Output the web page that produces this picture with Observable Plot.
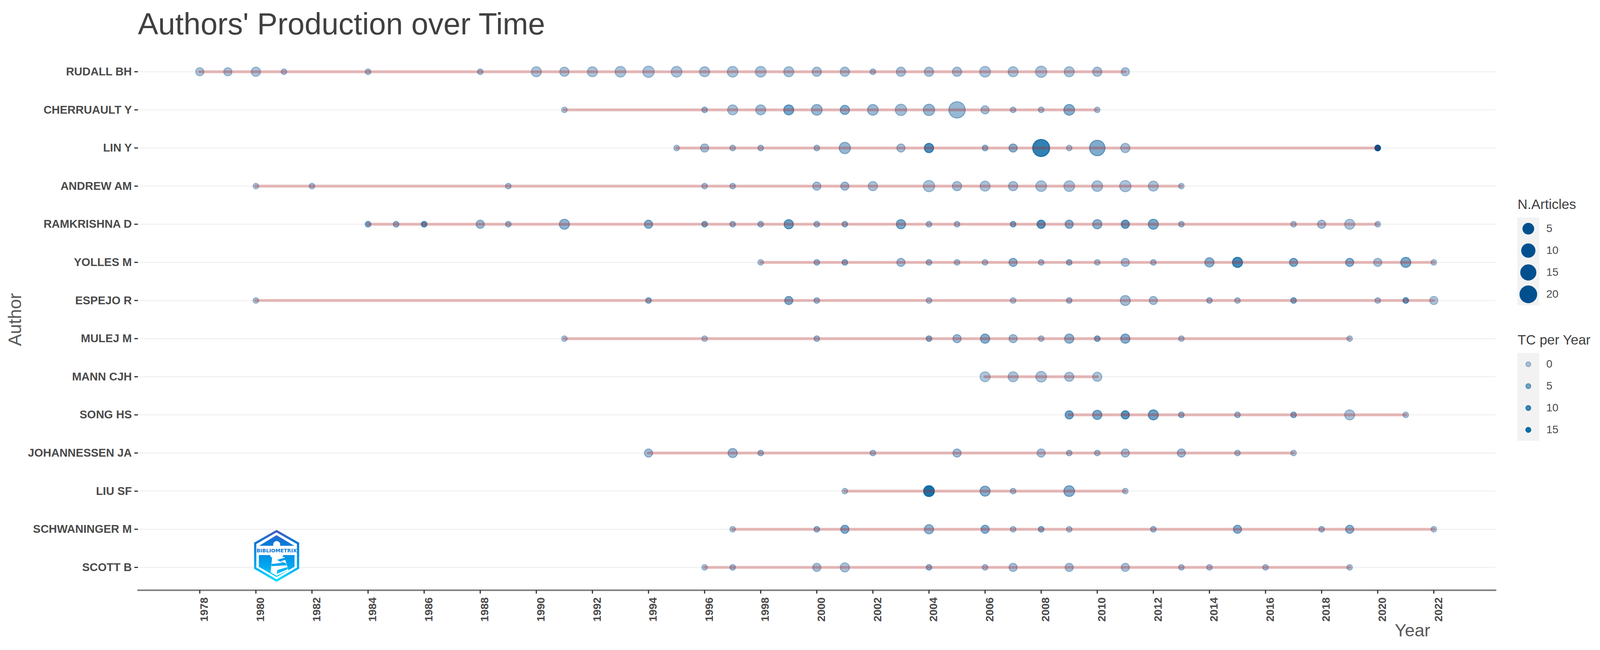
<!DOCTYPE html>
<html>
<head>
<meta charset="utf-8">
<script src="https://cdn.jsdelivr.net/npm/d3@7"></script>
<script src="https://cdn.jsdelivr.net/npm/@observablehq/plot@0.6"></script>
<style>
  html, body { margin: 0; padding: 0; background: #fff; }
  body { position: relative; width: 4108px; height: 1664px; overflow: hidden; font-family: "Liberation Sans", Arial, sans-serif; }
  #title { height: 110px; padding-left: 353px; box-sizing: border-box; font-size: 78px; line-height: 1; color: #404040; padding-top: 22px; white-space: nowrap; }
  .legend { position: absolute; left: 3884px; }
  .legend .head { position: absolute; left: 1px; font-size: 35px; line-height: 1; color: #404040; white-space: nowrap; }
  .legend svg { display: block; }
  #logo { position: absolute; left: 600px; top: 1320px; }
</style>
</head>
<body>
<div id="title">Authors' Production over Time</div>
<div id="chart"></div>
<div class="legend" id="legendN" style="top:556px"><div class="head" style="top:-51px">N.Articles</div></div>
<div class="legend" id="legendTC" style="top:903px"><div class="head" style="top:-51px">TC per Year</div></div>
<svg id="logo" width="220" height="200" viewBox="0 0 660 600">
  <defs>
    <linearGradient id="lg" x1="0" y1="110" x2="0" y2="508" gradientUnits="userSpaceOnUse">
      <stop offset="0" stop-color="#4a5cc0"/>
      <stop offset="0.25" stop-color="#0a78d8"/>
      <stop offset="0.7" stop-color="#00a8f0"/>
      <stop offset="1" stop-color="#00e4ff"/>
    </linearGradient>
  </defs>
  <polygon points="324,119 489,213 489,403 324,499 160,403 160,213" fill="#fff" stroke="url(#lg)" stroke-width="17"/>
  <polygon points="324,150 460,232 190,232" fill="url(#lg)"/>
  <polygon points="188,303 462,303 462,393 324,472 188,393" fill="url(#lg)"/>
  <circle cx="325" cy="222" r="27" fill="#fff"/>
  <rect x="297" y="230" width="56" height="30" fill="#fff"/>
  <ellipse cx="325" cy="305" rx="50" ry="24" fill="#fff"/>
  <polygon points="290,320 385,318 415,420 325,462 278,436" fill="#fff"/>
  <polygon points="328,340 392,322 396,338 352,352 396,366 402,382 286,388 284,372 368,362" fill="url(#lg)"/>
  <polygon points="330,418 406,396 410,412 326,448" fill="url(#lg)"/>
  <text x="325" y="281" text-anchor="middle" font-family="'DejaVu Sans'" font-weight="700" font-size="38" textLength="310" lengthAdjust="spacingAndGlyphs" fill="#0a78d8">BIBLIOMETRIX</text>
</svg>
<script>
const authors = ["RUDALL BH","CHERRUAULT Y","LIN Y","ANDREW AM","RAMKRISHNA D","YOLLES M","ESPEJO R","MULEJ M","MANN CJH","SONG HS","JOHANNESSEN JA","LIU SF","SCHWANINGER M","SCOTT B"];
const xTicks = [1978,1980,1982,1984,1986,1988,1990,1992,1994,1996,1998,2000,2002,2004,2006,2008,2010,2012,2014,2016,2018,2020,2022];

const rudallYears = [1978,1979,1980,1981,1984,1988,1990,1991,1992,1993,1994,1995,1996,1997,1998,1999,2000,2001,2002,2003,2004,2005,2006,2007,2008,2009,2010,2011];
const rudallArticles = [2,2,3,1,1,1,4,3,4,5,6,5,4,5,5,4,3,3,1,3,3,3,5,4,6,4,3,2];
const rudallTC = [.6,.7,.7,1,1.5,1.5,.7,.8,.8,.8,.8,.8,.8,.8,.8,.9,.9,.9,1.5,.9,.9,.9,.7,.8,.7,.8,.9,.8];

const cherruaultYears = [1991,1996,1997,1998,1999,2000,2001,2002,2003,2004,2005,2006,2007,2008,2009,2010];
const cherruaultArticles = [1,1,4,4,4,5,3,5,6,6,19,2,1,1,5,1];
const cherruaultTC = [.3,2,1,1.5,5.5,2.5,3.5,2,1.5,2.5,2.5,1,1,1,4,.5];

const linYears = [1995,1996,1997,1998,2000,2001,2003,2004,2006,2007,2008,2009,2010,2011,2020];
const linArticles = [1,2,1,1,1,6,2,3,1,2,21,1,16,3,1];
const linTC = [.5,1,1,1.5,1.5,2.5,1,9,3,3.5,11.5,.7,4.5,1,16];

const andrewYears = [1980,1982,1989,1996,1997,2000,2001,2002,2004,2005,2006,2007,2008,2009,2010,2011,2012,2013];
const andrewArticles = [1,1,1,1,1,2,2,3,6,3,4,3,5,5,5,6,4,1];
const andrewTC = [.3,1,1,1,1,1,1.5,.8,.8,1,.8,1,.8,.7,.8,.7,.8,.5];

const ramkrishnaYears = [1984,1985,1986,1988,1989,1991,1994,1996,1997,1998,1999,2000,2001,2003,2004,2005,2007,2008,2009,2010,2011,2012,2013,2017,2018,2019,2020];
const ramkrishnaArticles = [1,1,1,2,1,4,2,1,1,1,3,1,1,3,1,1,1,2,2,3,2,4,1,1,2,4,1];
const ramkrishnaTC = [5,3,8,2,2,3,4,5,2.5,2.5,6.5,2.5,3,5,1.5,1.5,5,8,4,3.5,7,5,2,1,1,.5,1];

const yollesYears = [1998,2000,2001,2003,2004,2005,2006,2007,2008,2009,2010,2011,2012,2014,2015,2017,2019,2020,2021,2022];
const yollesArticles = [1,1,1,2,1,1,1,2,1,1,1,2,1,3,4,2,2,2,4,1];
const yollesTC = [.5,2.5,4,1.5,2,1,1,3,1.5,3,.8,1,1.5,3.5,10,5,4,.8,5,.5];

const espejoYears = [1980,1994,1999,2000,2004,2007,2009,2011,2012,2014,2015,2017,2020,2021,2022];
const espejoArticles = [1,1,2,1,1,1,1,4,2,1,1,1,1,1,2];
const espejoTC = [.3,4,4.5,2,1,.5,2,1.5,1,2,1,5,1,7,.5];

const mulejYears = [1991,1996,2000,2004,2005,2006,2007,2008,2009,2010,2011,2013,2019];
const mulejArticles = [1,1,1,1,2,3,2,1,3,1,3,1,1];
const mulejTC = [.3,.5,2,4,2,4,1.5,1,3,5,4,1,.5];

const mannYears = [2006,2007,2008,2009,2010];
const mannArticles = [4,4,5,3,3];
const mannTC = [.5,.8,.7,.7,.5];

const songYears = [2009,2010,2011,2012,2013,2015,2017,2019,2021];
const songArticles = [2,3,2,4,1,1,1,4,1];
const songTC = [6,5,8,6,3,2,4,.7,.5];

const johannessenYears = [1994,1997,1998,2002,2005,2008,2009,2010,2011,2013,2015,2017];
const johannessenArticles = [2,3,1,1,2,2,1,1,2,2,1,1];
const johannessenTC = [1.5,2,2,1.5,1.5,.8,1.5,1,1,1.5,1,.5];

const liuYears = [2001,2004,2006,2007,2009,2011];
const liuArticles = [1,5,4,1,5,1];
const liuTC = [.5,14,4,1,4,.5];

const schwaningerYears = [1997,2000,2001,2004,2006,2007,2008,2009,2012,2015,2018,2019,2022];
const schwaningerArticles = [1,1,2,3,2,1,1,1,1,2,1,2,1];
const schwaningerTC = [.5,3,4.5,3,4,1,4,1,2,4,2,3.5,.5];

const scottYears = [1996,1997,2000,2001,2004,2006,2007,2009,2011,2013,2014,2016,2019];
const scottArticles = [1,1,2,3,1,1,2,2,2,1,1,1,1];
const scottTC = [.4,1.5,1,.8,3,1,1,1,.8,1,1,1,.5];

const yearLists = [rudallYears,cherruaultYears,linYears,andrewYears,ramkrishnaYears,yollesYears,espejoYears,mulejYears,mannYears,songYears,johannessenYears,liuYears,schwaningerYears,scottYears];
const articleLists = [rudallArticles,cherruaultArticles,linArticles,andrewArticles,ramkrishnaArticles,yollesArticles,espejoArticles,mulejArticles,mannArticles,songArticles,johannessenArticles,liuArticles,schwaningerArticles,scottArticles];
const tcLists = [rudallTC,cherruaultTC,linTC,andrewTC,ramkrishnaTC,yollesTC,espejoTC,mulejTC,mannTC,songTC,johannessenTC,liuTC,schwaningerTC,scottTC];

const legendArticles = [5,10,15,20];
const legendTC = [0,5,10,15];

const rows = authors.flatMap((author, i) => yearLists[i].map((year, j) => ({author, year, n: articleLists[i][j], tc: tcLists[i][j]})));

const BLUE = "#00508f";
const TEXT = "#4a4a4a";
const FONT = "'Liberation Sans', Arial, sans-serif";
// ggplot-style area scale: radius grows with sqrt of the rescaled count
const areaValue = n => Math.sqrt((n - 1) / 20) + 0.0001;
const rScale = {type: "linear", domain: [0, 1], range: [7.25, 21.75]};
const opacityScale = {type: "linear", domain: [0, 16], range: [0.3, 1], clamp: true};
const colorScale = {type: "linear", domain: [0, 5, 11, 15, 16], range: ["#00488c", "#005898", "#00619f", "#0066a0", "#00508f"], interpolate: "rgb"};

const chart = Plot.plot({
  width: 4108,
  height: 1554,
  marginLeft: 353,
  marginRight: 280,
  marginTop: 14.6,
  marginBottom: 153.4,
  style: {fontFamily: FONT, background: "transparent", overflow: "visible"},
  x: {domain: [1975.8, 2024.2]},
  y: {type: "point", domain: authors, padding: 0.6, round: false},
  r: rScale,
  opacity: opacityScale,
  color: colorScale,
  marks: [
    Plot.gridY({stroke: "#ececec", strokeOpacity: 1, strokeWidth: 2}),
    Plot.frame({anchor: "bottom", stroke: "#7f7f7f", strokeWidth: 4}),
    Plot.axisY({label: null, tickSize: 9, tickPadding: 7, fontSize: 29, fontWeight: "bold", fill: TEXT, stroke: "#333", strokeWidth: 3}),
    Plot.axisX({ticks: xTicks, text: null, label: null, tickSize: 9, stroke: "#333", strokeWidth: 3}),
    Plot.axisX({ticks: xTicks, tickFormat: "d", label: null, tickSize: 0, tickPadding: 18, tickRotate: -90, dx: 12, fontSize: 28, fontWeight: "bold", fill: TEXT}),
    Plot.dot(rows, {
      x: "year", y: "author",
      r: d => areaValue(d.n),
      fill: {value: "tc", scale: "color"}, stroke: {value: "tc", scale: "color"}, strokeWidth: 2.5,
      fillOpacity: {value: "tc", scale: "opacity"},
      strokeOpacity: {value: "tc", scale: "opacity"},
      sort: null
    }),
    Plot.line(rows, {x: "year", y: "author", z: "author", stroke: "#b22222", strokeOpacity: 0.3, strokeWidth: 7.5, curve: "linear"}),
    Plot.text(["Author"], {frameAnchor: "left", textAnchor: "middle", rotate: -90, dx: -314, fontSize: 46, fill: "#595959"}),
    Plot.text(["Year"], {frameAnchor: "bottom-right", dx: -167, dy: 118, fontSize: 45, fill: "#595959"})
  ]
});
document.getElementById("chart").appendChild(chart);

function legend(id, values, dotOptions) {
  const svg = Plot.plot({
    width: 200,
    height: 225,
    marginLeft: 0,
    marginRight: 144,
    marginTop: 0,
    marginBottom: 0,
    style: {fontFamily: FONT, background: "transparent", overflow: "visible"},
    y: {type: "band", domain: values, padding: 0},
    r: rScale,
    opacity: opacityScale,
    color: colorScale,
    marks: [
      Plot.frame({fill: "#f2f2f2"}),
      Plot.axisY({anchor: "right", label: null, tickSize: 0, tickPadding: 18, fontSize: 28, fill: TEXT}),
      Plot.dot(values, {y: d => d, frameAnchor: "middle", strokeWidth: 2.5, ...dotOptions})
    ]
  });
  document.getElementById(id).appendChild(svg);
}
legend("legendN", legendArticles, {r: d => areaValue(d), fill: BLUE, stroke: BLUE});
legend("legendTC", legendTC, {
  r: 6.25,
  fill: {value: d => d, scale: "color"}, stroke: {value: d => d, scale: "color"},
  fillOpacity: {value: d => d, scale: "opacity"}, strokeOpacity: {value: d => d, scale: "opacity"}
});
</script>
</body>
</html>
